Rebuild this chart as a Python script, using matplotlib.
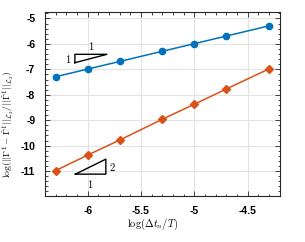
import matplotlib
matplotlib.use("Agg")
import matplotlib.pyplot as plt
from matplotlib.ticker import MultipleLocator

plt.rcParams["mathtext.fontset"] = "cm"

# log10 of the time step ratio
log_dt = [-6.30, -6.00, -5.70, -5.30, -5.00, -4.70, -4.30]
# relative error, two series
err_blue = [-7.29, -6.99, -6.69, -6.29, -5.99, -5.69, -5.29]
err_orange = [-10.98, -10.37, -9.78, -8.96, -8.37, -7.77, -6.98]

x_ticks = [-6, -5.5, -5, -4.5]
y_ticks = [-11, -10, -9, -8, -7, -6, -5]

# slope triangles: (x0, x1, y0, y1) in data units
tri_up = (-6.12, -5.82, -6.74, -6.41)
tri_lo = (-6.115, -5.83, -11.12, -10.53)

blue = "#0072BD"
orange = "#D95319"

fig = plt.figure(figsize=(3.05, 2.42), dpi=100)
ax = fig.add_axes([0.1475, 0.19, 0.77, 0.759])

ax.plot(log_dt, err_blue, "-o", color=blue, lw=1.1, ms=4.5)
ax.plot(log_dt, err_orange, "-D", color=orange, lw=1.1, ms=3.8)

# upper triangle (slope 1)
x0, x1, y0, y1 = tri_up
ax.plot([x0, x0, x1, x0], [y0, y1, y1, y0], color="k", lw=1.0)
ax.text(x0 - 0.03, (y0 + y1) / 2, r"$1$", ha="right", va="center", fontsize=7.5)
ax.text((x0 + x1) / 2, y1 + 0.08, r"$1$", ha="center", va="bottom", fontsize=7.5)

# lower triangle (slope 2)
x0, x1, y0, y1 = tri_lo
ax.plot([x0, x1, x1, x0], [y0, y0, y1, y0], color="k", lw=1.0)
ax.text(x1 + 0.03, (y0 + y1) / 2, r"$2$", ha="left", va="center", fontsize=7.5)
ax.text((x0 + x1) / 2, y0 - 0.14, r"$1$", ha="center", va="top", fontsize=7.5)

ax.set_xlim(-6.4, -4.2)
ax.set_ylim(-11.98, -4.76)
ax.set_xticks(x_ticks)
ax.set_xticklabels([f"{v:g}" for v in x_ticks])
ax.set_yticks(y_ticks)
ax.set_yticklabels([f"{v:g}" for v in y_ticks])
ax.xaxis.set_minor_locator(MultipleLocator(0.1))
ax.yaxis.set_minor_locator(MultipleLocator(0.2))

ax.grid(True, which="major", color="#e3e3e3", lw=0.8)
ax.set_axisbelow(True)
for s in ax.spines.values():
    s.set_color("#262626")
    s.set_linewidth(0.8)
ax.tick_params(which="both", direction="in", top=True, right=True,
               color="#262626", width=0.6)
ax.tick_params(which="major", length=3.5, pad=7)
ax.tick_params(which="minor", length=1.8)
for lab in ax.get_xticklabels() + ax.get_yticklabels():
    lab.set_fontfamily("Liberation Sans")
    lab.set_fontweight("bold")
    lab.set_fontsize(7.5)

ax.set_xlabel(r"$\log(\Delta t_n/T)$", fontsize=7.5)
ax.xaxis.set_label_coords(0.457, -0.115)
ax.set_ylabel(r"$\log(||\Gamma^1-\hat{\Gamma}^1||_{\mathcal{L}_2}/||\hat{\Gamma}^1||_{\mathcal{L}_2})$",
              fontsize=7.0)
ax.yaxis.set_label_coords(-0.125, 0.39)

fig.savefig("out.png", dpi=100)
